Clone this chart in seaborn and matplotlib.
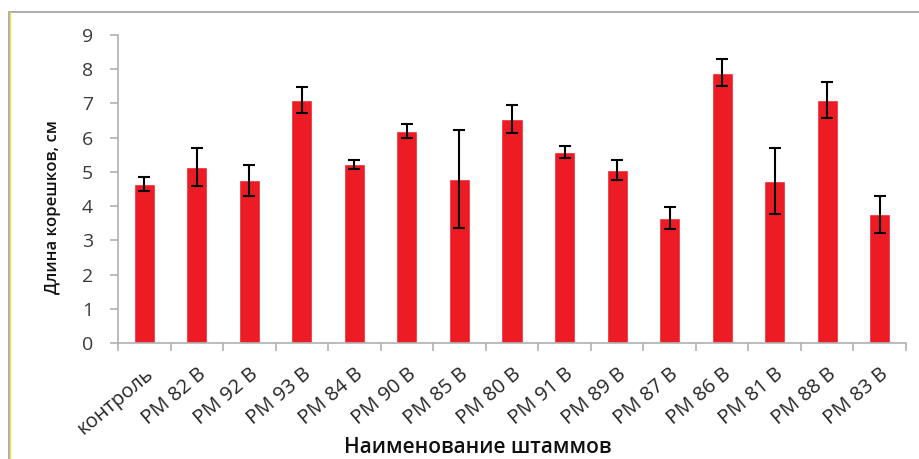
import numpy as np
import pandas as pd
import seaborn as sns
import matplotlib.pyplot as plt
from matplotlib.lines import Line2D

# Strain names, mean root length and error (cm)
strains = ['контроль', 'PM 82 B', 'PM 92 B', 'PM 93 B', 'PM 84 B', 'PM 90 B', 'PM 85 B',
           'PM 80 B', 'PM 91 B', 'PM 89 B', 'PM 87 B', 'PM 86 B', 'PM 81 B', 'PM 88 B', 'PM 83 B']
lengths = [4.65, 5.14, 4.75, 7.11, 5.22, 6.19, 4.79, 6.55, 5.58, 5.05, 3.65, 7.90, 4.74, 7.11, 3.76]
errors = [0.20, 0.55, 0.46, 0.38, 0.14, 0.21, 1.44, 0.40, 0.17, 0.29, 0.33, 0.39, 0.96, 0.53, 0.55]
yticks = [0, 1, 2, 3, 4, 5, 6, 7, 8, 9]

df = pd.DataFrame({'strain': strains, 'length': lengths, 'err': errors})

sns.set_style('white')
plt.rcParams['font.family'] = ['Open Sans', 'DejaVu Sans']

fig = plt.figure(figsize=(9.2, 4.59), dpi=100)
ax = fig.add_axes([118 / 920, 1 - 343 / 459, 788 / 920, 308 / 459])

sns.barplot(data=df, x='strain', y='length', color='#ed1c24', saturation=1,
            width=0.4, errorbar=None, ax=ax)
ax.errorbar(np.arange(len(df)), df['length'], yerr=df['err'], fmt='none',
            ecolor='black', elinewidth=1.5, capsize=4.5, capthick=1.5)

ax.set_xlim(-0.5, len(strains) - 0.5)
ax.set_ylim(0, 9)
ax.set_yticks(yticks)
ax.set_yticklabels([str(t) for t in yticks])

# frame: only left and bottom gray axis lines
for s in ['top', 'right']:
    ax.spines[s].set_visible(False)
for s in ['left', 'bottom']:
    ax.spines[s].set_color('#b0b0b0')
    ax.spines[s].set_linewidth(1.2)

# x ticks sit between categories
ax.set_xticks(np.arange(len(strains)))
ax.set_xticklabels(strains, rotation=40, ha='right', rotation_mode='anchor', fontsize=14.5, color='#262626')
ax.tick_params(axis='x', length=0, pad=15)
ax.set_xticks(np.arange(-0.5, len(strains)), minor=True)
ax.tick_params(axis='x', which='minor', length=6, color='#b0b0b0', width=1.2, direction='out', bottom=True)
ax.tick_params(axis='y', length=6, color='#b0b0b0', width=1.2, direction='out', left=True,
               labelsize=14, labelcolor='#3a3a3a', pad=12)

ax.set_xlabel('Наименование штаммов', fontsize=15, fontweight='semibold', color='#111111')
ax.xaxis.set_label_coords(0.457, -0.305)
ax.set_ylabel('Длина корешков, см', fontsize=12, fontweight='semibold', color='#111111')
ax.yaxis.set_label_coords(-0.072, 0.44)

# outer chart border (top and left)
fig.add_artist(Line2D([9 / 920, 1], [1 - 12 / 459, 1 - 12 / 459], color='#a0a0a0', lw=1.2))
fig.add_artist(Line2D([9 / 920, 9 / 920], [0, 1 - 12 / 459], color='#a0a0a0', lw=1.2))
fig.add_artist(Line2D([10.5 / 920, 10.5 / 920], [0, 1 - 12 / 459], color='#f0e040', lw=1.0))

fig.savefig('out.png', dpi=100)
